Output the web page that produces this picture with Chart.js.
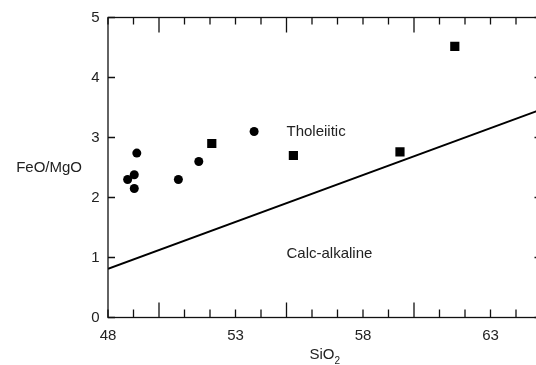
<!DOCTYPE html>
<html><head><meta charset="utf-8">
<script src="https://cdn.jsdelivr.net/npm/chart.js@4/dist/chart.umd.min.js"></script>
<style>html,body{margin:0;padding:0;background:#fff;overflow:hidden;width:536px;height:365px}canvas{display:block}</style>
</head><body>
<canvas id="c" width="560" height="365"></canvas>
<script>
// Data
const circleX = [49.13, 48.77, 49.03, 49.03, 50.76, 51.56, 53.73];
const circleY = [2.74, 2.30, 2.38, 2.15, 2.30, 2.60, 3.10];
const squareX = [52.07, 55.27, 59.45, 61.60];
const squareY = [2.90, 2.70, 2.76, 4.52];
const lineX = [48, 65];
const lineY = [0.8125, 3.469];
const xLabelTicks = [48, 53, 58, 63];
const yTicks = [0, 1, 2, 3, 4, 5];
const fieldLabels = ['Tholeiitic', 'Calc-alkaline'];
const fieldX = [55.0, 55.0];
const fieldY = [3.1, 1.06];

const FONT = 'Liberation Sans, Arial, sans-serif';
const toPts = (xs, ys) => xs.map((x, i) => ({x, y: ys[i]}));

const decor = {
  id: 'decor',
  afterDraw(chart) {
    const ctx = chart.ctx, xs = chart.scales.x, ys = chart.scales.y, a = chart.chartArea;
    ctx.save();
    ctx.strokeStyle = '#111';
    ctx.lineWidth = 1.3;
    ctx.strokeRect(a.left, a.top, a.right - a.left, a.bottom - a.top);
    ctx.beginPath();
    for (let v = 48; v <= 65; v++) {
      const px = xs.getPixelForValue(v);
      const long = (v - 50) % 5 === 0;
      const lb = long ? 15 : 8, lt = long ? 15 : 7;
      ctx.moveTo(px, a.bottom); ctx.lineTo(px, a.bottom - lb);
      ctx.moveTo(px, a.top); ctx.lineTo(px, a.top + lt);
    }
    yTicks.forEach(v => {
      const py = ys.getPixelForValue(v);
      ctx.moveTo(a.left, py); ctx.lineTo(a.left + 7, py);
      ctx.moveTo(a.right, py); ctx.lineTo(a.right - 7, py);
    });
    ctx.stroke();
    ctx.fillStyle = '#222';
    ctx.font = '15px ' + FONT;
    ctx.textBaseline = 'middle';
    ctx.textAlign = 'left';
    fieldLabels.forEach((t, i) => ctx.fillText(t, xs.getPixelForValue(fieldX[i]), ys.getPixelForValue(fieldY[i])));
    // y title
    ctx.textAlign = 'right';
    ctx.fillText('FeO/MgO', 82, ys.getPixelForValue(2.5));
    // x title with subscript
    const cx = (a.left + a.right) / 2;
    ctx.font = '15px ' + FONT;
    const w1 = ctx.measureText('SiO').width;
    ctx.font = '10px ' + FONT;
    const w2 = ctx.measureText('2').width;
    const start = cx - (w1 + w2) / 2;
    ctx.textAlign = 'left';
    ctx.font = '15px ' + FONT;
    ctx.fillText('SiO', start, 355);
    ctx.font = '10px ' + FONT;
    ctx.fillText('2', start + w1, 361);
    ctx.restore();
  }
};

new Chart(document.getElementById('c'), {
  type: 'scatter',
  data: {
    datasets: [
      {data: toPts(lineX, lineY), showLine: true, borderColor: '#000', borderWidth: 2, pointRadius: 0, fill: false},
      {data: toPts(circleX, circleY), pointStyle: 'circle', pointRadius: 4.5, backgroundColor: '#000', borderColor: '#000', borderWidth: 0},
      {data: toPts(squareX, squareY), pointStyle: 'rect', pointRadius: 6.5, backgroundColor: '#000', borderColor: '#000', borderWidth: 0}
    ]
  },
  options: {
    responsive: false,
    animation: false,
    devicePixelRatio: 1,
    layout: {padding: {left: 0, right: 18.5, top: 15, bottom: 0}},
    plugins: {legend: {display: false}, tooltip: {enabled: false}},
    scales: {
      x: {
        type: 'linear', min: 48, max: 65,
        grid: {display: false, drawTicks: false},
        border: {display: false},
        afterBuildTicks: s => { s.ticks = []; for (let v = 48; v <= 65; v++) s.ticks.push({value: v}); },
        afterFit: s => { s.height = 47.5; },
        ticks: {
          autoSkip: false, maxRotation: 0, padding: 9.5, color: '#222',
          font: {size: 15, family: FONT},
          callback: v => xLabelTicks.includes(v) ? String(v) : ''
        }
      },
      y: {
        type: 'linear', min: 0, max: 5,
        grid: {display: false, drawTicks: false},
        border: {display: false},
        afterBuildTicks: s => { s.ticks = yTicks.map(v => ({value: v})); },
        afterFit: s => { s.width = 108; },
        ticks: {padding: 8.5, color: '#222', font: {size: 15, family: FONT}}
      }
    }
  },
  plugins: [decor]
});
</script>
</body></html>
